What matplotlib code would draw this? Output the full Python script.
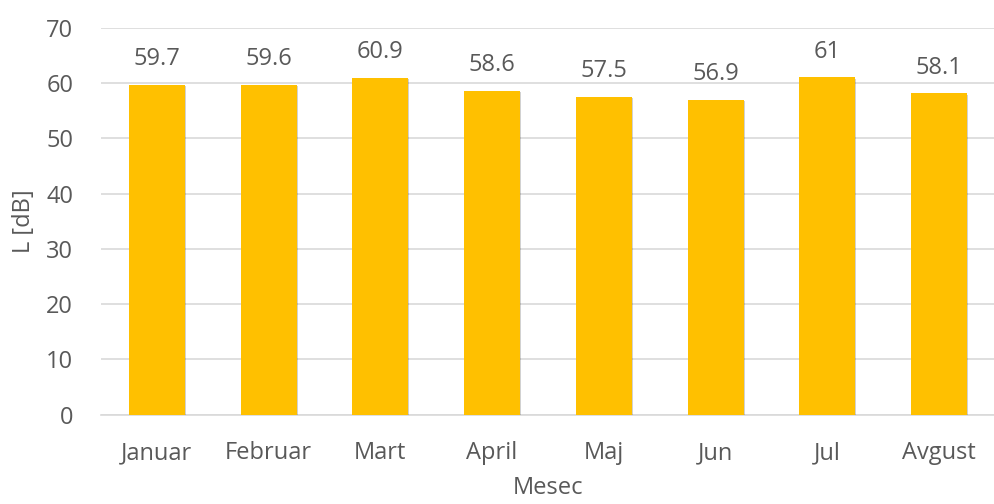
import matplotlib
matplotlib.use("Agg")
import matplotlib.pyplot as plt
import matplotlib.patheffects as pe

months = ["Januar", "Februar", "Mart", "April", "Maj", "Jun", "Jul", "Avgust"]
values = [59.7, 59.6, 60.9, 58.6, 57.5, 56.9, 61, 58.1]
labels = ["59.7", "59.6", "60.9", "58.6", "57.5", "56.9", "61", "58.1"]
yticks = [0, 10, 20, 30, 40, 50, 60, 70]

plt.rcParams['font.family'] = ['Open Sans', 'DejaVu Sans']
txt = '#595959'
fs = 17

fig = plt.figure(figsize=(9.95, 5.04), dpi=100)
ax = fig.add_axes([101/995, 1-414.7/504, (995-101)/995, (414.7-27.7)/504])

x = list(range(len(months)))
bars = ax.bar(x, values, width=0.5, color='#FFC000', zorder=3,
              path_effects=[pe.SimplePatchShadow(offset=(0.8, -0.8), shadow_rgbFace='#000000', alpha=0.18), pe.Normal()])
for xi, v, l in zip(x, values, labels):
    ax.annotate(l, (xi, v), xytext=(0, 10), textcoords='offset points',
                ha='center', va='bottom', fontsize=fs, color=txt)

ax.set_xlim(-0.5, len(months) - 0.5)
ax.set_ylim(0, 70)
ax.set_yticks(yticks)
ax.set_xticks(x)
ax.set_xticklabels(months)
ax.yaxis.grid(True, color='#D9D9D9', linewidth=1.2, zorder=0)
ax.set_axisbelow(True)
for s in ['top', 'right', 'left']:
    ax.spines[s].set_visible(False)
ax.spines['bottom'].set_color('#D9D9D9')
ax.spines['bottom'].set_linewidth(1.2)
ax.tick_params(axis='both', length=0, labelsize=fs, labelcolor=txt)
ax.tick_params(axis='y', pad=20)
ax.tick_params(axis='x', pad=19)
ax.set_xlabel('Mesec', fontsize=fs, color=txt, labelpad=8)
ax.set_ylabel('L [dB]', fontsize=fs, color=txt, labelpad=7)

fig.savefig('out.png', dpi=100)
